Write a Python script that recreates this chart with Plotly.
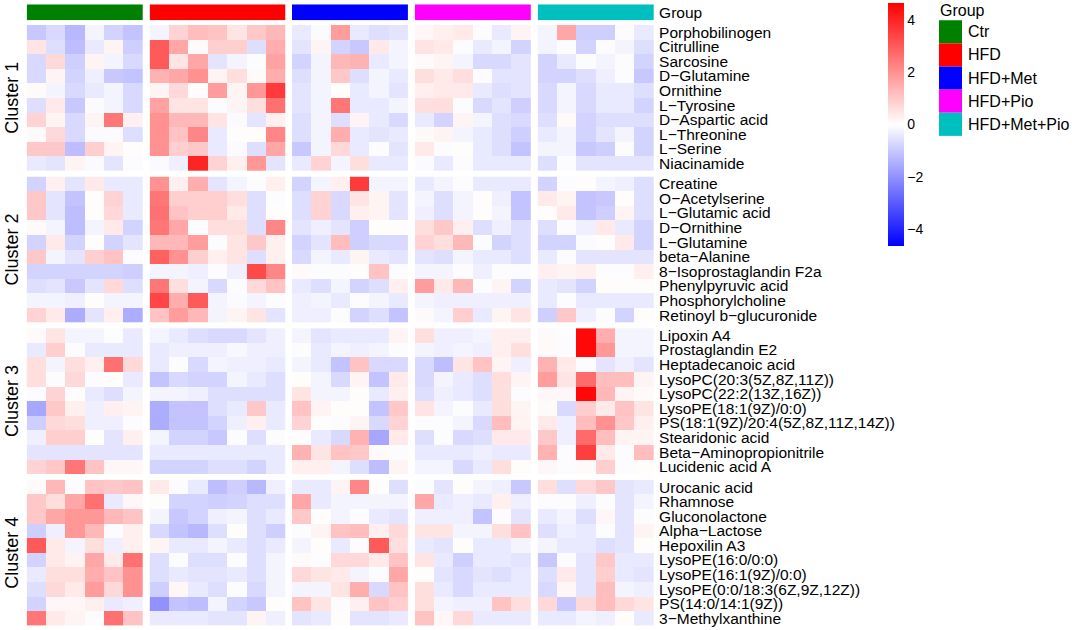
import numpy as np
import plotly.graph_objects as go

W, H = 1072, 630

groups = ["Ctr", "HFD", "HFD+Met", "HFD+Pio", "HFD+Met+Pio"]
group_sizes = [6, 7, 6, 6, 6]
group_colors = ["#008000", "#FF0000", "#0000FF", "#FF00FF", "#00BFBF"]
cluster_titles = ["Cluster 1", "Cluster 2", "Cluster 3", "Cluster 4"]

# row names per cluster (top to bottom)
cluster1_names = ["Porphobilinogen", "Citrulline", "Sarcosine", "D−Glutamine", "Ornithine",
                  "L−Tyrosine", "D−Aspartic acid", "L−Threonine", "L−Serine", "Niacinamide"]
cluster2_names = ["Creatine", "O−Acetylserine", "L−Glutamic acid", "D−Ornithine", "L−Glutamine",
                  "beta−Alanine", "8−Isoprostaglandin F2a", "Phenylpyruvic acid",
                  "Phosphorylcholine", "Retinoyl b−glucuronide"]
cluster3_names = ["Lipoxin A4", "Prostaglandin E2", "Heptadecanoic acid", "LysoPC(20:3(5Z,8Z,11Z))",
                  "LysoPC(22:2(13Z,16Z))", "LysoPE(18:1(9Z)/0:0)",
                  "PS(18:1(9Z)/20:4(5Z,8Z,11Z,14Z))", "Stearidonic acid",
                  "Beta−Aminopropionitrile", "Lucidenic acid A"]
cluster4_names = ["Urocanic acid", "Rhamnose", "Gluconolactone", "Alpha−Lactose", "Hepoxilin A3",
                  "LysoPE(16:0/0:0)", "LysoPE(16:1(9Z)/0:0)", "LysoPE(0:0/18:3(6Z,9Z,12Z))",
                  "PS(14:0/14:1(9Z))", "3−Methylxanthine"]

# z-scores, columns: Ctr(6) | HFD(7) | HFD+Met(6) | HFD+Pio(6) | HFD+Met+Pio(6)
cluster1_values = [
    [-1.0, -0.7, -1.3, -0.2, -0.8, -1.1,  -0.2, 0.8, 1.2, 1.1, 0.5, 1.0, 1.3,  -0.4, -0.1, 1.8, -0.4, -0.6, -0.5,  0.15, 0.3, 0.4, -0.05, -0.4, 0.2,  -0.2, 1.6, -0.9, -0.9, -0.05, -0.4],
    [0.5, -0.6, -1.2, -0.4, 0.2, -0.9,  3.0, 1.6, 0.1, 0.9, 0.9, -0.6, 1.5,  -0.5, 0.2, -0.8, -1.0, 0.4, -0.2,  0.5, 0.4, -0.05, -0.4, -0.2, -0.8,  -0.2, -0.05, -0.8, -0.05, -0.2, -0.6],
    [-0.7, 0.7, -0.9, 0.2, -0.2, -0.7,  3.0, 0.5, 1.6, -0.5, -0.2, -0.05, 1.7,  -0.8, -0.2, 1.3, 1.4, -0.4, -0.2,  0.1, 0.2, -0.2, -0.7, -0.7, -0.5,  -0.8, -0.4, -0.05, -0.2, -0.05, -0.8],
    [-0.7, 0.2, -0.8, -0.3, -1.0, -1.1,  1.4, 1.6, 2.0, 0.2, 0.6, 0.1, 1.5,  -0.6, -0.2, 1.0, -0.6, -0.2, -0.4,  0.6, 0.4, 0.6, -0.05, -0.5, -0.5,  -0.8, -0.8, -0.6, -0.3, -0.05, -1.0],
    [0.1, -0.2, -0.7, -0.4, -0.2, -0.7,  0.2, 0.7, 0.05, 1.8, 0.2, 1.9, 3.6,  -0.5, -0.2, 0.05, -0.4, -0.2, -0.5,  0.3, 0.4, 0.4, -0.4, -0.6, -0.5,  -0.7, -0.2, -0.7, -0.4, -0.4, -0.6],
    [-0.6, 0.4, -1.0, -0.1, -0.2, -0.7,  1.7, 0.5, 0.5, -0.05, 0.2, 0.6, 2.6,  -0.5, -0.2, 2.5, -0.4, -0.4, -0.2,  0.6, 0.6, -0.05, -0.7, -0.5, -0.9,  -0.7, -0.2, -0.7, -0.4, -0.4, -0.8],
    [0.8, 0.2, -0.7, 0.2, 2.5, 0.3,  2.0, 1.3, 1.3, 0.5, -0.1, -0.5, 0.3,  -0.6, -0.2, -0.6, 0.2, -0.4, -0.7,  -0.4, -0.8, 0.2, -0.2, -0.6, -0.7,  -0.6, 0.1, -0.8, -0.6, -0.6, -0.6],
    [0.1, 0.7, -0.7, -0.1, -0.1, -0.6,  2.0, 1.1, 2.2, -0.4, 0.05, 0.05, 2.2,  -0.6, -0.2, 1.5, -0.4, -0.5, -0.4,  0.1, 0.2, -0.2, -0.4, -0.6, -0.9,  -0.4, -0.2, -0.8, -0.5, -0.2, -0.8],
    [1.0, 1.0, -1.2, 0.9, 0.2, 0.05,  2.0, 0.9, 1.0, -0.4, -0.1, -0.6, 1.6,  -1.0, -0.2, 0.7, -0.4, -0.05, -0.5,  0.4, -0.05, 0.05, -0.4, -0.6, -1.1,  -0.2, -0.2, -1.0, -0.9, -0.05, -0.8],
    [-0.4, -0.5, 0.2, -0.1, -0.5, -0.05,  -0.1, -0.3, 4.0, 0.8, 0.3, 1.9, -0.5,  -0.4, 0.8, -0.2, 0.6, -0.4, -0.4,  -0.1, -0.4, -0.05, -0.4, -0.4, -0.4,  -0.6, -0.05, -0.5, -0.5, -0.5, -0.5],
]
cluster2_values = [
    [-0.8, 0.3, -0.5, 0.4, -0.4, -0.4,  2.0, 0.3, 1.5, -0.5, -0.2, -0.05, 0.3,  -0.8, -0.2, 0.3, 3.6, -0.2, -0.2,  -0.4, -0.2, -0.05, -0.4, -0.4, -0.4,  -0.8, -0.05, 0.05, -0.2, -0.3, -0.6],
    [1.0, -0.5, -1.1, 0.05, 0.8, -0.4,  2.5, 0.9, 0.9, 0.9, 0.6, -0.6, -0.05,  -0.6, 0.8, -0.7, 0.5, 0.2, -0.5,  -0.2, -0.6, -0.2, 0.05, -0.3, -1.1,  0.4, 0.2, -1.1, -1.0, 0.05, -0.6],
    [1.0, -0.5, -1.2, 0.05, 0.7, -0.4,  2.6, 1.1, 0.9, 0.9, 0.4, -0.6, 0.05,  -0.6, 0.8, -0.7, 0.3, 0.2, -0.5,  -0.3, -0.6, -0.2, 0.05, -0.2, -1.1,  0.05, 0.4, -1.1, -0.9, 0.2, -0.6],
    [0.1, -0.2, -1.2, -0.2, 0.4, -0.8,  2.5, 1.6, -0.05, 0.6, 0.6, -0.6, 2.2,  -0.5, -0.3, -0.5, -0.9, 0.05, 0.05,  0.6, 1.0, 0.3, -0.6, -0.3, -0.6,  -0.6, -0.05, -0.3, 0.4, -0.4, -0.8],
    [-0.8, 0.4, -0.8, 0.05, -0.8, -0.5,  1.3, 1.3, 1.8, -0.05, 0.5, 1.0, 0.3,  -0.8, -0.5, 1.2, -0.9, -0.7, -0.7,  0.8, 0.6, 1.3, -0.05, -0.8, -0.6,  -0.8, -0.8, -0.1, 0.05, 0.4, -0.8],
    [1.0, -0.2, -0.5, 0.9, 1.1, -0.05,  2.9, 2.0, 0.9, 0.3, 0.5, -0.6, 0.3,  -0.7, -0.2, -0.4, 0.2, -0.4, -0.5,  -0.5, -0.6, -0.2, -0.4, -0.4, -0.6,  -0.4, -0.05, -0.5, -0.5, -0.5, -0.5],
    [-0.8, -0.8, -0.8, -0.8, -0.8, -0.9,  -0.2, -0.2, -0.3, -0.05, -0.3, 3.3, 2.2,  0.1, -0.05, -0.05, 0.05, 1.1, -0.05,  -0.2, -0.2, -0.05, -0.3, -0.05, -0.05,  0.3, 0.2, 0.3, -0.05, -0.05, 0.3],
    [-0.6, -0.5, -1.0, -0.5, 0.7, -0.6,  2.5, 0.6, -0.2, -0.7, -0.05, 0.7, 1.1,  -0.4, -0.6, -0.2, -0.8, -0.6, 0.3,  1.8, 0.4, 1.3, -0.05, 0.2, -0.8,  -0.4, -0.5, -0.8, 0.05, 0.05, 0.05],
    [-0.2, -0.2, -0.3, 0.05, -0.2, -0.2,  3.4, 1.5, 3.0, -0.2, -0.1, -0.2, -0.05,  -0.3, -0.2, -0.4, -0.05, -0.2, -0.4,  -0.2, -0.3, -0.3, -0.3, -0.3, -0.3,  -0.4, -0.05, -0.4, -0.4, -0.4, -0.4],
    [0.8, 0.4, -1.5, -0.5, 0.3, -1.5,  1.1, 1.8, 1.3, -0.2, 0.2, 0.5, -0.5,  -0.3, -0.3, -0.05, -0.8, -0.6, -1.1,  0.1, -0.2, 0.9, -0.4, 0.2, 0.5,  -0.9, 1.0, -0.3, -0.05, -0.8, 0.05],
]
cluster3_values = [
    [0.1, 0.5, -0.2, -0.2, -0.05, -0.4,  -0.2, -0.4, -0.6, -0.7, -0.7, -0.5, -0.3,  -0.2, -0.5, -0.4, -0.4, -0.4, 0.2,  0.6, -0.3, -0.3, -0.2, 0.3, 0.3,  0.1, -0.05, 4.5, 1.5, -0.2, -0.2],
    [-0.4, 0.9, -0.05, -0.4, -0.4, -0.4,  -0.4, -0.3, -0.3, -0.3, -0.15, -0.3, -0.3,  -0.05, -0.4, -0.2, -0.3, -0.2, -0.05,  -0.2, -0.3, -0.2, -0.3, 0.3, 0.6,  0.1, -0.05, 4.5, 1.9, -0.2, -0.2],
    [0.6, -0.2, 0.6, 0.3, 2.6, 0.7,  -0.4, -0.05, -0.7, -0.2, -0.3, -0.3, -0.4,  -0.2, -0.4, -1.1, 1.1, -0.7, -0.7,  -0.7, -1.2, 0.5, 1.1, 0.2, -0.3,  1.4, 0.4, -0.05, -0.5, -0.3, -0.5],
    [0.6, -0.05, 0.7, -0.05, 0.05, -0.4,  -1.1, -0.7, -0.8, -0.8, -0.2, -0.4, -0.6,  0.05, -0.2, -0.7, 0.2, -1.1, 0.4,  -0.7, -0.2, -0.4, -0.6, 0.6, 0.2,  1.8, 0.5, 2.7, 1.2, 1.2, 0.2],
    [-0.05, 0.8, 0.05, -0.4, -0.6, -0.2,  -0.2, -0.2, -0.3, -0.6, -0.6, -0.6, -0.6,  0.5, -0.2, -0.2, 0.05, -0.4, 0.3,  -0.6, -0.3, -0.4, -0.6, 0.6, -0.05,  0.15, 0.15, 4.5, 1.3, 0.2, 0.1],
    [-1.6, 1.0, 0.3, -0.3, 0.3, 0.2,  -1.5, -1.1, -1.1, -0.6, -0.4, 1.0, -0.4,  1.1, 0.2, 0.05, 0.05, -1.1, 1.0,  0.5, -0.2, -0.05, -0.4, 0.6, 0.2,  0.1, -0.7, 0.9, 0.4, 1.1, 0.5],
    [-0.9, 0.7, 0.6, -0.3, -0.3, -0.05,  -1.5, -1.1, -1.1, -0.8, -0.3, 0.3, -0.4,  0.8, 0.05, -0.05, 0.2, -0.7, 0.8,  -0.05, -0.05, -0.2, -0.7, 1.2, 0.2,  0.4, -0.3, 1.2, 2.0, 1.0, 0.3],
    [-0.3, 0.9, 0.9, 0.05, -0.5, 0.3,  -0.2, -0.8, -0.8, -1.0, -0.05, -0.6, -0.05,  0.05, -0.4, -0.7, 1.4, -1.6, 0.4,  -0.6, -0.05, -0.7, -0.6, 0.4, 0.4,  1.0, -0.3, 2.7, 1.2, 0.2, 0.2],
    [-0.5, -0.5, -0.5, -0.5, -0.5, -0.5,  -0.4, -0.4, -0.4, -0.4, -0.4, -0.4, -0.4,  1.4, 0.5, 1.1, 1.0, 0.1, -0.05,  -0.4, -0.4, -0.4, -0.3, -0.4, -0.4,  1.4, -0.05, 3.5, 0.4, -0.05, 1.2],
    [0.8, 1.0, 2.5, 1.1, 0.15, 0.15,  -0.8, -0.8, -0.8, -0.6, -0.6, -0.8, -0.4,  0.3, 0.3, -0.2, -0.6, -1.2, 0.2,  -0.2, -0.2, -0.7, -0.4, 0.6, 0.05,  0.15, -0.05, 0.1, 0.9, -0.05, 0.05],
]
cluster4_values = [
    [0.1, 1.3, -0.05, 1.1, 1.0, 1.1,  0.4, -0.05, -0.4, -1.2, -0.9, -1.3, -0.3,  -0.4, -0.4, 0.2, 2.2, 0.05, -0.6,  -0.05, -0.5, 0.05, -0.2, -0.3, -1.0,  0.6, -0.6, 0.7, 1.0, -0.5, -0.4],
    [1.0, 0.6, 1.6, 2.6, -0.4, 0.15,  0.05, -0.8, -0.8, -0.9, -0.8, -0.6, -0.6,  1.6, -0.4, -0.2, -0.2, -0.2, -0.2,  1.6, -0.4, -0.3, -0.4, 0.3, -0.3,  -0.05, -0.05, -0.3, -0.05, -0.5, -0.2],
    [1.0, 1.6, 1.9, 1.9, 1.3, 1.1,  -0.2, -1.0, -0.8, -0.3, -0.2, -0.6, -0.4,  1.0, 0.05, -0.2, -0.05, -0.4, -0.5,  -0.3, -0.3, -0.3, -1.1, -0.05, -0.5,  -0.4, -0.2, -0.6, 0.15, -0.5, -0.05],
    [-0.9, -0.3, 1.9, 1.3, -0.05, 0.3,  -0.7, -1.1, -1.3, -0.6, 0.05, -0.6, -0.9,  -0.05, 0.2, 1.1, 1.2, 0.3, 0.7,  0.5, 0.5, -0.2, -0.2, 0.6, 1.1,  -0.6, -0.3, -0.4, -0.05, -0.5, 0.2],
    [3.0, 0.4, -0.2, 0.6, -0.3, 0.3,  0.2, -0.4, -0.4, -0.2, -0.4, -0.6, -0.4,  -0.2, 0.05, -0.4, -0.05, 3.0, 0.6,  -0.4, -0.5, 0.05, -0.4, -0.4, -0.2,  -0.2, -0.4, -0.4, -0.6, -0.5, 0.05],
    [-0.8, 0.4, 0.2, 1.6, 0.4, 2.6,  -0.6, -0.05, -0.6, -0.6, -0.05, -0.6, -0.2,  0.1, -0.05, 0.7, 0.7, 0.4, 1.1,  0.5, -0.4, -0.9, -0.4, -0.4, -0.5,  -1.0, -0.05, -0.5, 1.0, -0.4, -0.4],
    [-0.4, 0.6, 0.6, 1.5, 1.1, 2.0,  -0.6, -0.4, -0.5, -0.5, -0.4, -0.6, -0.2,  0.7, 0.5, 0.4, -0.2, -0.05, 1.6,  0.05, -0.5, -0.7, -0.5, -0.6, -0.4,  -0.6, 0.4, -0.5, 0.9, -0.4, -0.5],
    [-0.6, 0.7, 0.4, 1.8, 0.7, 2.0,  -0.9, 0.15, -0.4, -0.6, -0.05, -0.7, -0.2,  -0.2, -0.2, 0.5, 1.5, -0.7, 1.1,  0.6, -0.4, -0.7, -0.4, -0.4, -0.4,  -0.7, 0.15, -0.5, 1.2, -0.2, -0.3],
    [-0.8, 0.15, 0.15, 0.3, -0.4, -0.3,  -2.0, -1.1, -1.2, -0.2, -0.8, -1.0, 0.05,  1.1, 0.5, -0.05, 0.3, 1.1, 0.9,  0.6, -0.2, -0.3, -0.3, 1.1, 0.6,  0.7, -1.0, 0.7, 1.2, 0.7, 0.5],
    [2.5, 0.4, 0.2, -0.05, 2.6, 1.1,  -0.4, -0.4, -0.4, -0.5, -0.5, 0.2, -0.3,  -0.5, -0.4, 0.05, -0.5, -0.5, -0.4,  1.1, 0.15, 0.7, -0.4, -0.4, -0.4,  -0.4, -0.4, -0.2, -0.3, 0.05, -0.4],
]

cluster_names = [cluster1_names, cluster2_names, cluster3_names, cluster4_names]
cluster_values = [cluster1_values, cluster2_values, cluster3_values, cluster4_values]

ZLIM = 4.65
FONT = "Liberation Sans, Arial, Helvetica, sans-serif"
colorscale = [[0.0, "rgb(0,0,255)"], [0.5, "rgb(255,255,255)"], [1.0, "rgb(255,0,0)"]]

# layout geometry in pixels
cell_w, grp_gap, x_start = 19.4, 6.5, 26.7
cl_h, cl_gap, y_start = 146.3, 5.8, 24.0
ann_top, ann_bot = 3.3, 19.3

x_domains = []
x = x_start
for n in group_sizes:
    x_domains.append([x / W, (x + n * cell_w) / W])
    x += n * cell_w + grp_gap

y_domains = [[1 - ann_bot / H, 1 - ann_top / H]]
for i in range(4):
    top = y_start + i * (cl_h + cl_gap)
    y_domains.append([1 - (top + cl_h) / H, 1 - top / H])

sample_ids = []
for g, n in zip(groups, group_sizes):
    sample_ids.append([f"{g}_{k + 1}" for k in range(n)])

fig = go.Figure()

# annotation bar on top
for gi, g in enumerate(groups):
    fig.add_trace(go.Heatmap(
        z=[[1] * group_sizes[gi]], x=sample_ids[gi], y=["Group"],
        colorscale=[[0, group_colors[gi]], [1, group_colors[gi]]],
        showscale=False, hoverinfo="skip",
        xaxis=f"x{gi + 1}", yaxis="y"))

# main heatmap blocks
for ci in range(4):
    vals = np.array(cluster_values[ci])
    col0 = 0
    for gi in range(len(groups)):
        n = group_sizes[gi]
        fig.add_trace(go.Heatmap(
            z=vals[:, col0:col0 + n], x=sample_ids[gi], y=cluster_names[ci],
            coloraxis="coloraxis",
            xaxis=f"x{gi + 1}", yaxis=f"y{ci + 2}"))
        col0 += n

layout = dict(
    width=W, height=H,
    margin=dict(l=0, r=0, t=0, b=0),
    paper_bgcolor="white", plot_bgcolor="white",
    font=dict(family=FONT, color="black"),
    showlegend=False,
    coloraxis=dict(
        colorscale=colorscale, cmin=-ZLIM, cmax=ZLIM,
        colorbar=dict(
            x=888 / W, xanchor="left", xpad=0,
            y=1 - 2 / H, yanchor="top", ypad=0,
            len=243, lenmode="pixels", thickness=16,
            outlinewidth=0, ticks="",
            tickvals=[-4, -2, 0, 2, 4],
            tickfont=dict(size=14, family=FONT))),
)
for gi in range(len(groups)):
    layout[f"xaxis{gi + 1}"] = dict(domain=x_domains[gi], anchor="y2", visible=False,
                                    showgrid=False, zeroline=False)
row_labels = [["Group"]] + cluster_names
for yi in range(5):
    key = "yaxis" if yi == 0 else f"yaxis{yi + 1}"
    layout[key] = dict(domain=y_domains[yi], anchor="x5", side="right",
                       autorange="reversed", showgrid=False, zeroline=False,
                       showline=False, ticks="", ticklabelstandoff=4,
                       tickmode="array", tickvals=row_labels[yi], ticktext=row_labels[yi],
                       tickfont=dict(size=15.5, family=FONT))
fig.update_layout(**layout)

# cluster labels on the left
for ci in range(4):
    fig.add_annotation(text=cluster_titles[ci], textangle=-90, showarrow=False,
                       xref="paper", yref="paper", x=12 / W,
                       y=sum(y_domains[ci + 1]) / 2, xanchor="center", yanchor="middle",
                       font=dict(size=18, family=FONT))

# group legend
fig.add_annotation(text="Group", showarrow=False, xref="paper", yref="paper",
                   x=938 / W, y=1 - 10 / H, xanchor="left", yanchor="middle",
                   font=dict(size=16, family=FONT))
key_h = 23.2
for gi, g in enumerate(groups):
    top = 19.3 + gi * key_h
    fig.add_shape(type="rect", xref="paper", yref="paper",
                  x0=939 / W, x1=962 / W, y0=1 - (top + key_h) / H, y1=1 - top / H,
                  fillcolor=group_colors[gi], line=dict(width=0))
    fig.add_annotation(text=g, showarrow=False, xref="paper", yref="paper",
                       x=966 / W, y=1 - (top + key_h / 2) / H, xanchor="left", yanchor="middle",
                       font=dict(size=16, family=FONT))

fig.write_html("out.html", config={"displayModeBar": False},
               post_script="document.body.style.margin='0px';")
